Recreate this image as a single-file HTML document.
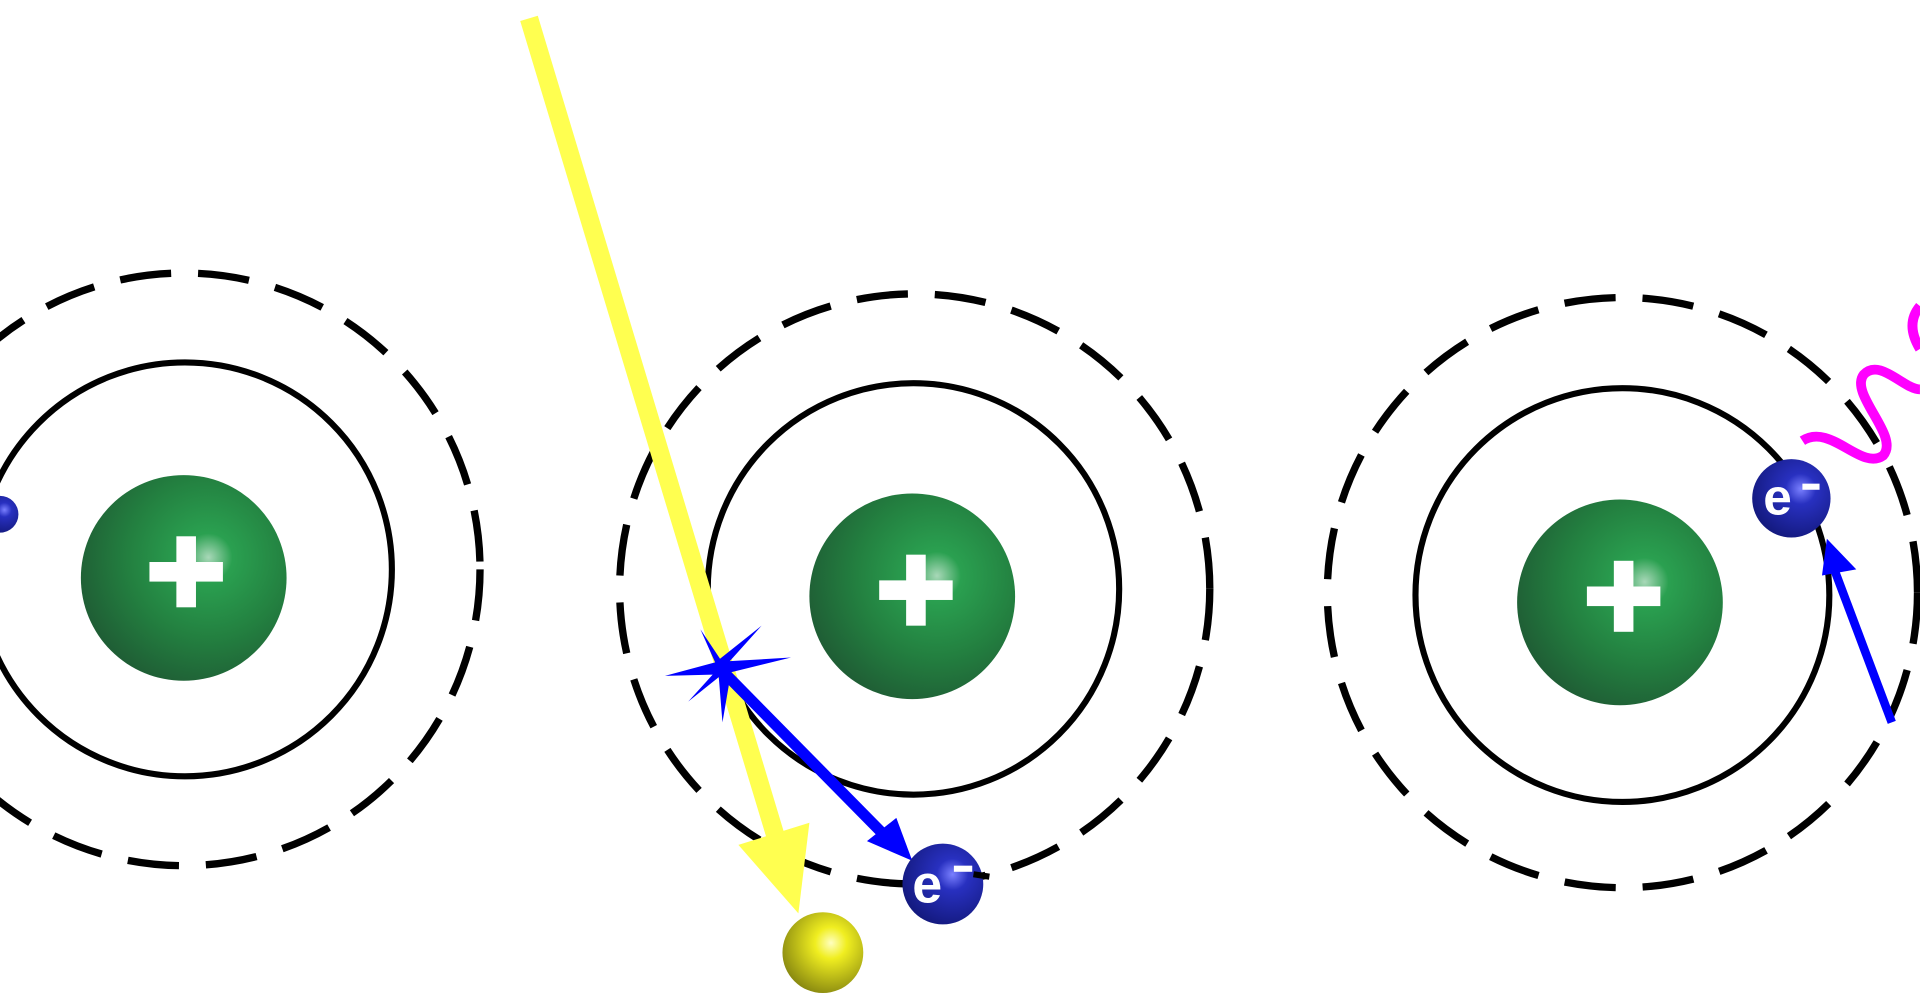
<!DOCTYPE html>
<html><head><style>html,body{margin:0;padding:0;background:#fff;overflow:hidden}svg{display:block}</style></head><body>
<svg width="1920" height="993" viewBox="0 0 1568 811" xmlns="http://www.w3.org/2000/svg">
<defs>
<radialGradient id="g" cx="0.62" cy="0.4" r="0.65"><stop offset="0" stop-color="#a8d8b8"/><stop offset="0.18" stop-color="#2aa050"/><stop offset="0.6" stop-color="#238040"/><stop offset="1" stop-color="#1f5e35"/></radialGradient>
<radialGradient id="b" cx="0.62" cy="0.38" r="0.65"><stop offset="0" stop-color="#7a80ff"/><stop offset="0.3" stop-color="#2830c0"/><stop offset="1" stop-color="#141a80"/></radialGradient>
<radialGradient id="y" cx="0.6" cy="0.38" r="0.65"><stop offset="0" stop-color="#ffffc0"/><stop offset="0.3" stop-color="#f0ee20"/><stop offset="1" stop-color="#8a8a10"/></radialGradient>
</defs>
<g fill="none" stroke="#000" stroke-width="5">
<circle cx="151" cy="465" r="169"/>
<circle cx="150" cy="465" r="242" stroke-width="6" stroke-dasharray="42 22"/>
<circle cx="746" cy="481" r="168"/>
<circle cx="747" cy="481" r="241" stroke-width="6" stroke-dasharray="42 22"/>
<circle cx="1325" cy="486" r="169"/>
<circle cx="1325" cy="484" r="241" stroke-width="6" stroke-dasharray="42 22"/>
</g>
<g>
<circle cx="150" cy="472" r="84" fill="url(#g)"/>
<circle cx="745" cy="487" r="84" fill="url(#g)"/>
<circle cx="1323" cy="492" r="84" fill="url(#g)"/>
<g fill="#fff"><rect x="122" y="459" width="60" height="16"/><rect x="144" y="438" width="16" height="58"/>
<rect x="718" y="474" width="60" height="16"/><rect x="740" y="453" width="16" height="58"/>
<rect x="1296" y="479" width="60" height="16"/><rect x="1318" y="458" width="16" height="58"/></g>
</g>
<line x1="432" y1="15" x2="637" y2="695" stroke="#ffff50" stroke-width="15"/>
<polygon points="603,690 661,672 652,746" fill="#ffff50"/>
<circle cx="672" cy="778" r="33" fill="url(#y)"/>
<line x1="592" y1="550" x2="728" y2="688" stroke="#0000ff" stroke-width="9"/>
<polygon points="708,687 732,668 745,703" fill="#0000ff"/>
<polygon points="572,514 588,538 622,511 596,540 646,537 597,549 590,590 587,553 562,573 582,551 543,552 584,541" fill="#0000ff"/>
<line x1="1545" y1="590" x2="1498" y2="465" stroke="#0000ff" stroke-width="7"/>
<polygon points="1488,470 1492,440 1516,465" fill="#0000ff"/>
<path d="M1472,360 C1495,345 1520,385 1538,372 C1552,356 1510,322 1522,306 C1535,292 1555,318 1568,318" fill="none" stroke="#ff00ff" stroke-width="8"/>
<path d="M1568,250 C1558,262 1562,275 1568,285" fill="none" stroke="#ff00ff" stroke-width="8"/>
<circle cx="0" cy="420" r="15" fill="url(#b)"/>
<circle cx="770" cy="722" r="33" fill="url(#b)"/>
<circle cx="1463" cy="407" r="32" fill="url(#b)"/>
<g fill="#fff" font-family="Liberation Sans, sans-serif" font-weight="bold">
<text x="745" y="737" font-size="44">e</text>
<text x="1440" y="420" font-size="42">e</text>
<rect x="779" y="707" width="15" height="5"/>
<rect x="1472" y="395" width="14" height="5"/>
</g>
<line x1="795" y1="714" x2="808" y2="716" stroke="#000" stroke-width="5"/>
</svg>
</body></html>
